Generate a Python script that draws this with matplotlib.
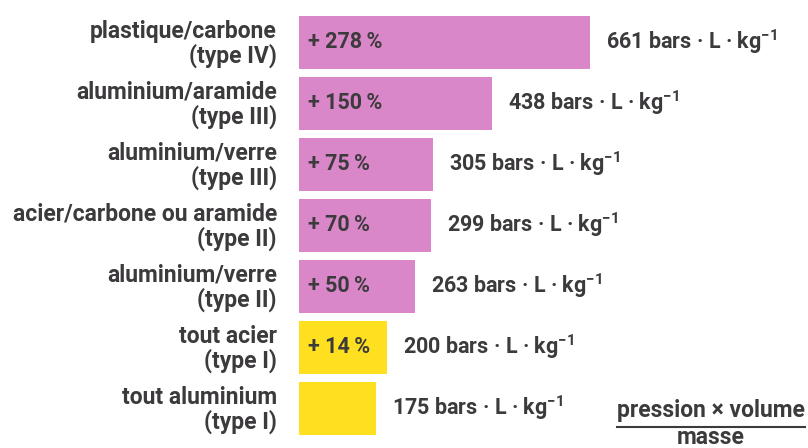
import matplotlib
matplotlib.use("Agg")
import matplotlib.pyplot as plt
from matplotlib.lines import Line2D

categories = ["plastique/carbone\n(type IV)", "aluminium/aramide\n(type III)",
              "aluminium/verre\n(type III)", "acier/carbone ou aramide\n(type II)",
              "aluminium/verre\n(type II)", "tout acier\n(type I)",
              "tout aluminium\n(type I)"]
values = [661, 438, 305, 299, 263, 200, 175]
gains = ["+ 278\u2009%", "+ 150\u2009%", "+ 75\u2009%", "+ 70\u2009%", "+ 50\u2009%", "+ 14\u2009%", ""]
groups = ["composite", "composite", "composite", "composite", "composite", "metal", "metal"]

colors = {"composite": "#D987C8", "metal": "#FFE020"}
txt = "#3C3A3C"

plt.rcParams['font.family'] = ['Roboto', 'DejaVu Sans']
plt.rcParams['mathtext.fontset'] = 'custom'
plt.rcParams['mathtext.rm'] = 'Roboto:bold'
plt.rcParams['mathtext.default'] = 'rm'

W, H = 808, 448
fig = plt.figure(figsize=(W/100, H/100), dpi=100)
x0 = 299
scale = 0.44
ax = fig.add_axes([x0/W, 0, (W-x0)/W, 1])
ax.set_xlim(0, (W-x0)/scale)
pitch = 61.0
c0 = 42.0
ax.set_ylim((H-c0)/pitch, -c0/pitch)
ax.axis('off')

ypos = list(range(len(values)))
ax.barh(ypos, values, height=53/pitch, color=[colors[g] for g in groups], edgecolor='none')

for y, v, lab, g in zip(ypos, values, categories, gains):
    ax.annotate(lab, xy=(0, y), xytext=(-16, -1.5), textcoords='offset points',
                ha='right', va='center', fontsize=16.5, fontweight='bold', color=txt,
                linespacing=1.04)
    if g:
        ax.annotate(g, xy=(0, y), xytext=(6.5, 0), textcoords='offset points',
                    ha='left', va='center', fontsize=15.5, fontweight='bold', color=txt)
    ax.annotate(f"{v} bars · L · kg$^{{-1}}$", xy=(v, y), xytext=(11.5, 0),
                textcoords='offset points', ha='left', va='center',
                fontsize=15.5, fontweight='bold', color=txt)

fig.text(711/W, 1 - 410/H, "pression × volume", ha='center', va='center',
         fontsize=16.5, fontweight='bold', color=txt)
fig.add_artist(Line2D([617/W, 805/W], [1 - 427/H, 1 - 427/H], color=txt, lw=1.5))
fig.text(711/W, 1 - 437/H, "masse", ha='center', va='center',
         fontsize=16.5, fontweight='bold', color=txt)

fig.savefig("out.png", dpi=100)
